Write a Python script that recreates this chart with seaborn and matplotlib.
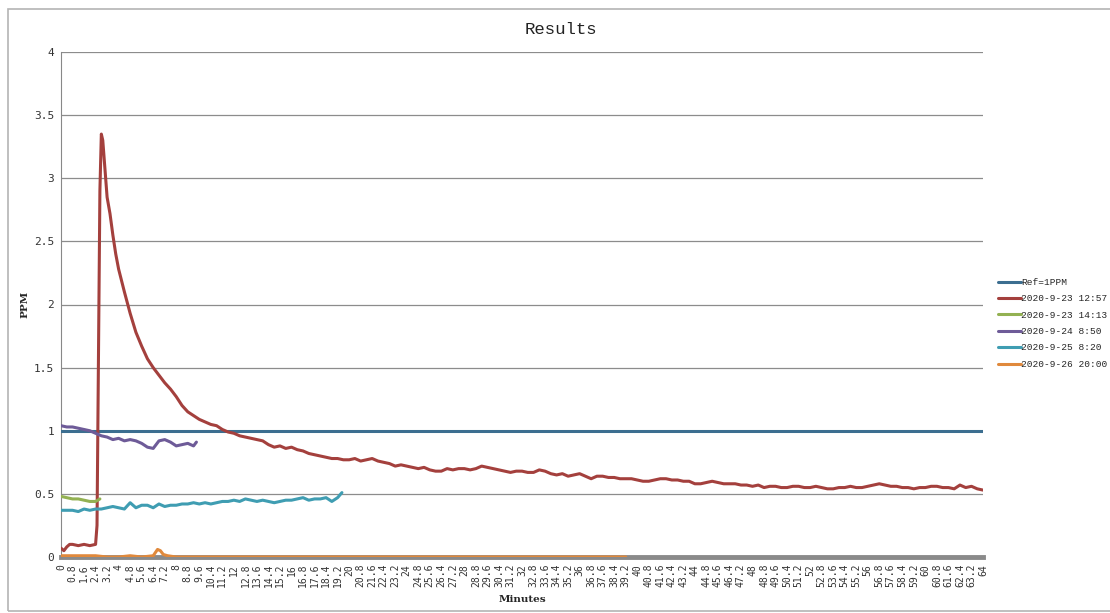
import pandas as pd
import matplotlib.pyplot as plt
import matplotlib.patches as mpatches
import seaborn as sns

sns.set_style("white")
plt.rcParams['font.family'] = ['DejaVu Sans Mono', 'DejaVu Sans']

# Series names (legend order)
series_names = ['Ref=1PPM', '2020-9-23 12:57', '2020-9-23 14:13',
                '2020-9-24 8:50', '2020-9-25 8:20', '2020-9-26 20:00']
series_colors = ['#3C6E90', '#A4403D', '#93B152', '#6E5B98', '#3F9DB2', '#E0893C']

# Ref line
ref_x = [0, 64]
ref_y = [1.0, 1.0]

# 2020-9-23 12:57 : start + spike + decay (0 .. 19.6)
red_head_x = [0, 0.2, 0.4, 0.6, 0.8, 1.2, 1.6, 2.0, 2.4, 2.5, 2.6, 2.7, 2.8, 2.9, 3.0,
              3.2, 3.4, 3.6, 3.8, 4.0, 4.4, 4.8, 5.2, 5.6, 6.0, 6.4, 6.8, 7.2, 7.6, 8.0,
              8.4, 8.8, 9.2, 9.6, 10.0, 10.4, 10.8, 11.2, 11.6, 12.0, 12.4, 12.8, 13.2,
              13.6, 14.0, 14.4, 14.8, 15.2, 15.6, 16.0, 16.4, 16.8, 17.2, 17.6, 18.0,
              18.4, 18.8, 19.2, 19.6]
red_head_y = [0.07, 0.05, 0.08, 0.10, 0.10, 0.09, 0.10, 0.09, 0.10, 0.25, 1.60, 2.90, 3.35, 3.30, 3.15,
              2.85, 2.72, 2.55, 2.40, 2.28, 2.10, 1.93, 1.78, 1.67, 1.57, 1.50, 1.44, 1.38, 1.33, 1.27,
              1.20, 1.15, 1.12, 1.09, 1.07, 1.05, 1.04, 1.01, 0.99, 0.98, 0.96, 0.95, 0.94,
              0.93, 0.92, 0.89, 0.87, 0.88, 0.86, 0.87, 0.85, 0.84, 0.82, 0.81, 0.80,
              0.79, 0.78, 0.78, 0.77]
# tail, sampled every 0.4 min from 20.0 to 64.0
red_tail_x = [round(20 + 0.4 * i, 1) for i in range(111)]
red_tail_y = [0.77, 0.78, 0.76, 0.77, 0.78, 0.76, 0.75, 0.74, 0.72, 0.73,
              0.72, 0.71, 0.70, 0.71, 0.69, 0.68, 0.68, 0.70, 0.69, 0.70,
              0.70, 0.69, 0.70, 0.72, 0.71, 0.70, 0.69, 0.68, 0.67, 0.68,
              0.68, 0.67, 0.67, 0.69, 0.68, 0.66, 0.65, 0.66, 0.64, 0.65,
              0.66, 0.64, 0.62, 0.64, 0.64, 0.63, 0.63, 0.62, 0.62, 0.62,
              0.61, 0.60, 0.60, 0.61, 0.62, 0.62, 0.61, 0.61, 0.60, 0.60,
              0.58, 0.58, 0.59, 0.60, 0.59, 0.58, 0.58, 0.58, 0.57, 0.57,
              0.56, 0.57, 0.55, 0.56, 0.56, 0.55, 0.55, 0.56, 0.56, 0.55,
              0.55, 0.56, 0.55, 0.54, 0.54, 0.55, 0.55, 0.56, 0.55, 0.55,
              0.56, 0.57, 0.58, 0.57, 0.56, 0.56, 0.55, 0.55, 0.54, 0.55,
              0.55, 0.56, 0.56, 0.55, 0.55, 0.54, 0.57, 0.55, 0.56, 0.54,
              0.53]
red_x = red_head_x + red_tail_x
red_y = red_head_y + red_tail_y

# 2020-9-23 14:13
green_x = [0, 0.4, 0.8, 1.2, 1.6, 2.0, 2.4, 2.7]
green_y = [0.48, 0.47, 0.46, 0.46, 0.45, 0.44, 0.44, 0.46]

# 2020-9-24 8:50
purple_x = [0, 0.4, 0.8, 1.2, 1.6, 2.0, 2.4, 2.8, 3.2, 3.6, 4.0, 4.4, 4.8, 5.2,
            5.6, 6.0, 6.4, 6.8, 7.2, 7.6, 8.0, 8.4, 8.8, 9.2, 9.4]
purple_y = [1.04, 1.03, 1.03, 1.02, 1.01, 1.00, 0.98, 0.96, 0.95, 0.93, 0.94, 0.92, 0.93, 0.92,
            0.90, 0.87, 0.86, 0.92, 0.93, 0.91, 0.88, 0.89, 0.90, 0.88, 0.91]

# 2020-9-25 8:20
teal_x = [0, 0.4, 0.8, 1.2, 1.6, 2.0, 2.4, 2.8, 3.2, 3.6, 4.0, 4.4, 4.8, 5.2, 5.6,
          6.0, 6.4, 6.8, 7.2, 7.6, 8.0, 8.4, 8.8, 9.2, 9.6, 10.0, 10.4, 10.8, 11.2,
          11.6, 12.0, 12.4, 12.8, 13.2, 13.6, 14.0, 14.4, 14.8, 15.2, 15.6, 16.0,
          16.4, 16.8, 17.2, 17.6, 18.0, 18.4, 18.8, 19.2, 19.5]
teal_y = [0.37, 0.37, 0.37, 0.36, 0.38, 0.37, 0.38, 0.38, 0.39, 0.40, 0.39, 0.38, 0.43, 0.39, 0.41,
          0.41, 0.39, 0.42, 0.40, 0.41, 0.41, 0.42, 0.42, 0.43, 0.42, 0.43, 0.42, 0.43, 0.44,
          0.44, 0.45, 0.44, 0.46, 0.45, 0.44, 0.45, 0.44, 0.43, 0.44, 0.45, 0.45,
          0.46, 0.47, 0.45, 0.46, 0.46, 0.47, 0.44, 0.47, 0.51]

# 2020-9-26 20:00
orange_x = [0, 0.8, 1.6, 2.4, 3.2, 4.0, 4.8, 5.6, 6.4, 6.7, 6.9, 7.1, 7.4, 8.0,
            12.0, 16.0, 20.0, 24.0, 28.0, 32.0, 36.0, 39.2]
orange_y = [0.01, 0.01, 0.01, 0.01, 0.00, 0.00, 0.01, 0.00, 0.01, 0.06, 0.05, 0.02, 0.01, 0.00,
            0.00, 0.00, 0.00, 0.00, 0.00, 0.00, 0.00, 0.00]

# X tick labels every 0.8 minutes
x_ticks = [round(i * 0.8, 1) for i in range(81)]
x_tick_labels = [f"{t:g}" for t in x_ticks]
y_ticks = [0, 0.5, 1, 1.5, 2, 2.5, 3, 3.5, 4]
y_tick_labels = ['0', '0.5', '1', '1.5', '2', '2.5', '3', '3.5', '4']

# Build long-form table
frames = []
for name, xs, ys in zip(series_names,
                        [ref_x, red_x, green_x, purple_x, teal_x, orange_x],
                        [ref_y, red_y, green_y, purple_y, teal_y, orange_y]):
    frames.append(pd.DataFrame({'Minutes': xs, 'PPM': ys, 'series': name}))
df = pd.concat(frames, ignore_index=True)

fig = plt.figure(figsize=(11.1, 6.13), dpi=100)
ax = fig.add_axes([61 / 1110, 1 - 557 / 613, 922 / 1110, 505 / 613])

sns.lineplot(data=df, x='Minutes', y='PPM', hue='series', hue_order=series_names,
             palette=dict(zip(series_names, series_colors)), estimator=None,
             linewidth=2.2, ax=ax, zorder=3)

ax.set_xlim(0, 64)
ax.set_ylim(0, 4)
ax.set_yticks(y_ticks)
ax.set_yticklabels(y_tick_labels, fontsize=8, color='#333333')
ax.set_xticks(x_ticks)
ax.set_xticklabels(x_tick_labels, rotation=90, fontsize=7, color='#333333')
ax.tick_params(axis='both', length=3, width=0.8, color='#888888', pad=2)

ax.yaxis.grid(True, color='#8c8c8c', linewidth=0.9)
ax.xaxis.grid(False)
for side in ['top', 'right']:
    ax.spines[side].set_visible(False)
ax.spines['left'].set_color('#888888')
ax.spines['bottom'].set_color('#8a8a8a')
ax.spines['bottom'].set_linewidth(3.5)
ax.spines['bottom'].set_zorder(2)

ax.set_xlabel('Minutes', fontsize=7.5, fontweight='bold', family='DejaVu Serif')
ax.set_ylabel('PPM', fontsize=7.5, fontweight='bold', family='DejaVu Serif')
ax.xaxis.set_label_coords(0.5, -0.075)
ax.yaxis.set_label_coords(-0.034, 0.5)

fig.text(561 / 1110, 1 - 30 / 613, 'Results', ha='center', va='center',
         fontsize=12.5, family='Liberation Mono', color='#222222')

leg = ax.legend(loc='upper left', bbox_to_anchor=(1.012, 0.56), frameon=False,
                prop={'family': 'Liberation Mono', 'size': 6.8}, handlelength=2.4,
                handletextpad=0.1, labelspacing=0.78, borderaxespad=0)
for line in leg.get_lines():
    line.set_linewidth(2.2)

# Outer chart border
fig.patches.append(mpatches.Rectangle((8 / 1110, 2 / 613), 1.1, 1 - 11 / 613,
                                      transform=fig.transFigure, fill=False,
                                      edgecolor='#b4b4b4', linewidth=1.2))

fig.savefig('out.png', dpi=100)
